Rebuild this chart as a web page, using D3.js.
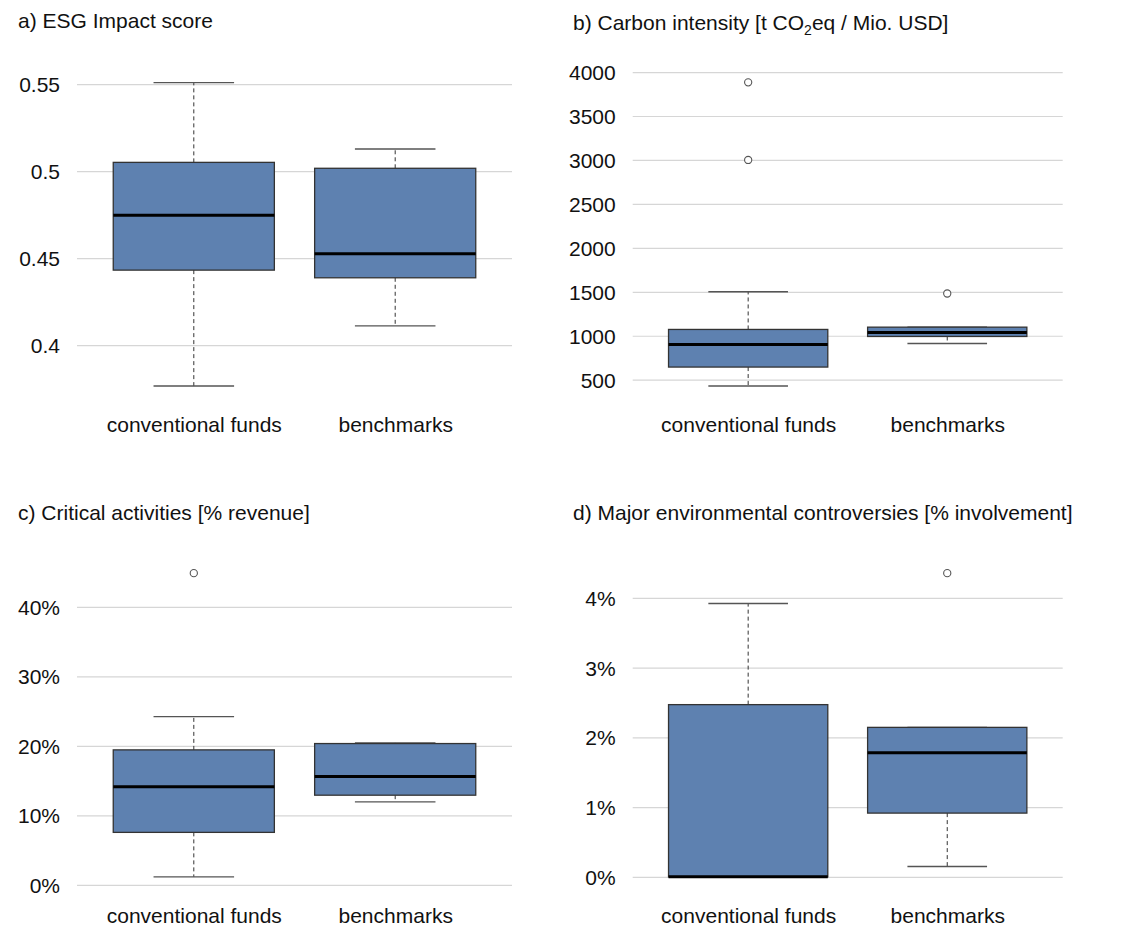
<!DOCTYPE html>
<html>
<head>
<meta charset="utf-8">
<script src="https://cdn.jsdelivr.net/npm/d3@7"></script>
<style>
  body { margin: 0; background: #fff; }
  text { font-family: "Liberation Sans", Arial, sans-serif; fill: #111; }
</style>
</head>
<body>
<svg id="chart" width="1126" height="929"></svg>
<script>
// ---- data ----
const categories = ["conventional funds", "benchmarks"];
// [lower whisker, Q1, median, Q3, upper whisker] per category
const esgStats = [[0.3765, 0.4431, 0.4746, 0.5050, 0.5508], [0.4111, 0.4387, 0.4525, 0.5016, 0.5127]];
const esgOutliers = [[], []];
const esgTicks = [0.4, 0.45, 0.5, 0.55];
const esgTickLabels = ["0.4", "0.45", "0.5", "0.55"];

const carbonStats = [[428, 644, 901, 1072, 1500], [912, 992, 1038, 1098, 1098]];
const carbonOutliers = [[3000, 3883], [1481]];
const carbonTicks = [500, 1000, 1500, 2000, 2500, 3000, 3500, 4000];
const carbonTickLabels = ["500", "1000", "1500", "2000", "2500", "3000", "3500", "4000"];

const criticalStats = [[0.0115, 0.0755, 0.141, 0.1942, 0.242], [0.1194, 0.129, 0.1558, 0.2033, 0.2043]];
const criticalOutliers = [[0.4485], []];
const criticalTicks = [0, 0.1, 0.2, 0.3, 0.4];
const criticalTickLabels = ["0%", "10%", "20%", "30%", "40%"];

const controvStats = [[0, 0, 0, 0.02469, 0.03918], [0.00148, 0.00914, 0.0178, 0.02143, 0.02143]];
const controvOutliers = [[], [0.04354]];
const controvTicks = [0, 0.01, 0.02, 0.03, 0.04];
const controvTickLabels = ["0%", "1%", "2%", "3%", "4%"];

// ---- layout ----
const panels = [
  { title: "a) ESG Impact score", stats: esgStats, out: esgOutliers, ticks: esgTicks, labels: esgTickLabels,
    x0: 77, x1: 512, y0: 70.5, y1: 398.2, tx: 18, ty: 28 },
  { title: null, stats: carbonStats, out: carbonOutliers, ticks: carbonTicks, labels: carbonTickLabels,
    x0: 632.7, x1: 1062.7, y0: 70.2, y1: 398.2, tx: 573, ty: 30 },
  { title: "c) Critical activities [% revenue]", stats: criticalStats, out: criticalOutliers, ticks: criticalTicks, labels: criticalTickLabels,
    x0: 77, x1: 512, y0: 561, y1: 889, tx: 18, ty: 519.5 },
  { title: "d) Major environmental controversies [% involvement]", stats: controvStats, out: controvOutliers, ticks: controvTicks, labels: controvTickLabels,
    x0: 632.7, x1: 1062.7, y0: 561, y1: 889, tx: 573, ty: 519.5 }
];

const svg = d3.select("#chart");
const FS = 21;
const fill = "#5e81b0";

panels.forEach((p, pi) => {
  const g = svg.append("g");
  // y domain: data range extended by 4% (R style)
  const allVals = p.stats.flat().concat(p.out.flat());
  const lo = d3.min(allVals), hi = d3.max(allVals);
  const ext = (hi - lo) * 0.04;
  const y = d3.scaleLinear().domain([lo - ext, hi + ext]).range([p.y1, p.y0]);
  const x = d3.scaleLinear().domain([0.42, 2.58]).range([p.x0, p.x1]);

  // y axis with gridlines
  const yAxis = d3.axisLeft(y).tickValues(p.ticks)
    .tickFormat((d, i) => p.labels[i])
    .tickSizeInner(-(p.x1 - p.x0)).tickSizeOuter(0).tickPadding(17);
  const ya = g.append("g").attr("transform", `translate(${p.x0},0)`).call(yAxis);
  ya.select(".domain").remove();
  ya.selectAll(".tick line").attr("stroke", "#d6d6d6").attr("stroke-width", 1.2);
  ya.selectAll(".tick text").attr("font-size", FS).attr("font-family", "Liberation Sans, Arial, sans-serif")
    .attr("fill", "#111").attr("dy", "0.36em");

  // x axis (categories)
  const xAxis = d3.axisBottom(x).tickValues([1, 2]).tickFormat((d, i) => categories[i]).tickSize(0).tickPadding(0);
  const xa = g.append("g").attr("transform", `translate(0,${p.y1})`).call(xAxis);
  xa.select(".domain").remove();
  xa.selectAll(".tick text").attr("font-size", FS).attr("font-family", "Liberation Sans, Arial, sans-serif")
    .attr("fill", "#111").attr("y", 33.5).attr("dy", null);

  const bw = 0.8, cw = 0.4;
  p.stats.forEach((s, i) => {
    const c = i + 1;
    const [wl, q1, med, q3, wh] = s;
    // whiskers
    if (wh > q3) g.append("line").attr("x1", x(c)).attr("x2", x(c)).attr("y1", y(q3)).attr("y2", y(wh))
      .attr("stroke", "#333").attr("stroke-width", 1).attr("stroke-dasharray", "4,3");
    if (wl < q1) g.append("line").attr("x1", x(c)).attr("x2", x(c)).attr("y1", y(q1)).attr("y2", y(wl))
      .attr("stroke", "#333").attr("stroke-width", 1).attr("stroke-dasharray", "4,3");
    // caps
    [wl, wh].forEach(v => {
      g.append("line").attr("x1", x(c - cw / 2)).attr("x2", x(c + cw / 2)).attr("y1", y(v)).attr("y2", y(v))
        .attr("stroke", "#555").attr("stroke-width", 1.4);
    });
    // box
    g.append("rect").attr("x", x(c - bw / 2)).attr("width", x(c + bw / 2) - x(c - bw / 2))
      .attr("y", y(q3)).attr("height", Math.max(0, y(q1) - y(q3)))
      .attr("fill", fill).attr("stroke", "#333").attr("stroke-width", 1.3);
    // median
    g.append("line").attr("x1", x(c - bw / 2)).attr("x2", x(c + bw / 2)).attr("y1", y(med)).attr("y2", y(med))
      .attr("stroke", "#000").attr("stroke-width", 3);
    // outliers
    p.out[i].forEach(v => {
      g.append("circle").attr("cx", x(c)).attr("cy", y(v)).attr("r", 3.6)
        .attr("fill", "#fff").attr("stroke", "#555").attr("stroke-width", 1.1);
    });
  });

  // title
  const t = g.append("text").attr("x", p.tx).attr("y", p.ty).attr("font-size", FS);
  if (p.title) {
    t.text(p.title);
  } else {
    t.append("tspan").text("b) Carbon intensity [t CO");
    t.append("tspan").attr("font-size", 14).attr("dy", 5).text("2");
    t.append("tspan").attr("dy", -5).text("eq / Mio. USD]");
  }
});
</script>
</body>
</html>
